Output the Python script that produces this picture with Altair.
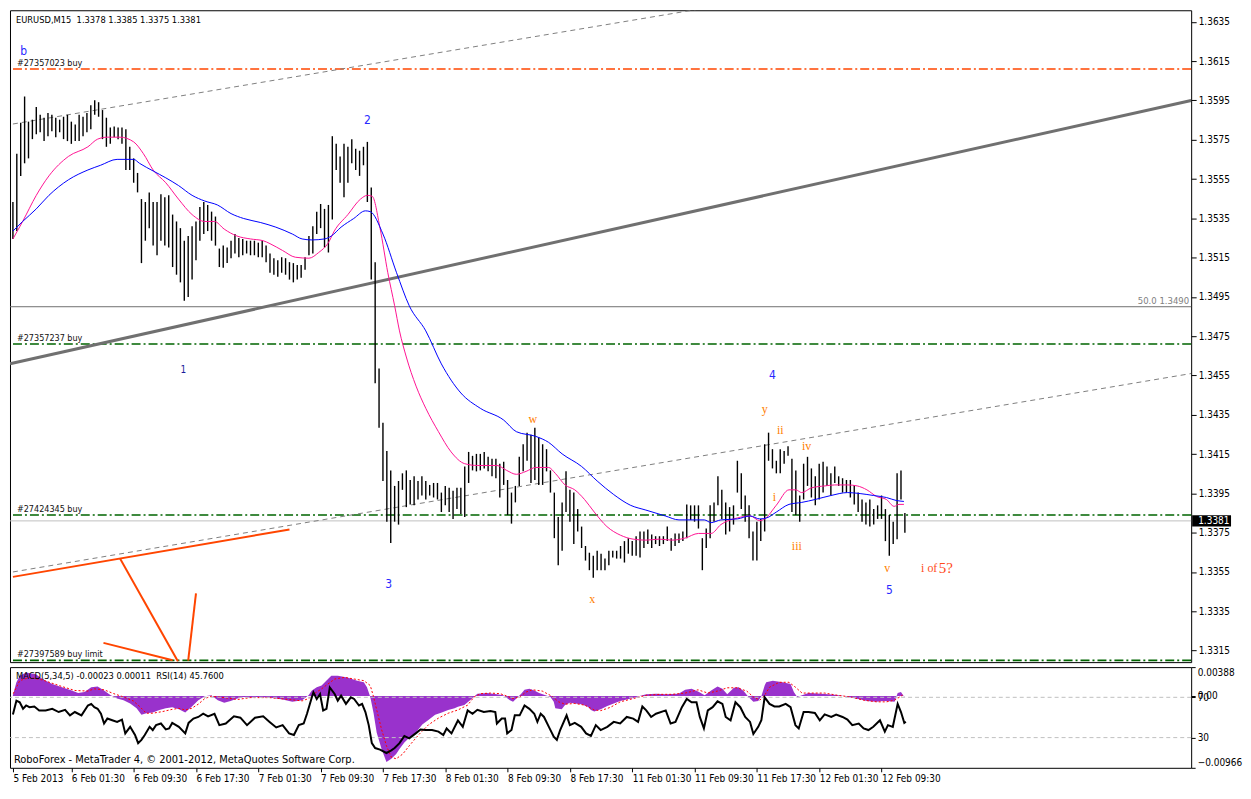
import json
import altair as alt
import pandas as pd

FONT = "DejaVu Sans Condensed, Liberation Sans, sans-serif"
SERIF = "Liberation Serif, serif"

# ---------------- price panel data ----------------
price_ticks = [1.3315, 1.3335, 1.3355, 1.3375, 1.3395, 1.3415, 1.3435, 1.3455, 1.3475,
               1.3495, 1.3515, 1.3535, 1.3555, 1.3575, 1.3595, 1.3615, 1.3635]

# bars: one bar every two M15 periods (index = M15 bar number)
bar_high = [
    1.35433, 1.35679, 1.35837, 1.35970, 1.35842, 1.35852, 1.35916, 1.35877, 1.35862, 1.35886,
    1.35877, 1.35862, 1.35852, 1.35867, 1.35877, 1.35842, 1.35827, 1.35877, 1.35867, 1.35886,
    1.35926, 1.35951, 1.35941, 1.35901, 1.35862, 1.35812, 1.35817, 1.35812, 1.35812, 1.35803,
    1.35714, 1.35655, 1.35581, 1.35448, 1.35433, 1.35482, 1.35433, 1.35433, 1.35472, 1.35457,
    1.35467, 1.35369, 1.35334, 1.35300, 1.35236, 1.35260, 1.35310, 1.35334, 1.35408, 1.35433,
    1.35418, 1.35384, 1.35359, 1.35196, 1.35211, 1.35201, 1.35236, 1.35270, 1.35250, 1.35245,
    1.35236, 1.35236, 1.35236, 1.35226, 1.35236, 1.35211, 1.35171, 1.35147, 1.35137, 1.35152,
    1.35147, 1.35127, 1.35122, 1.35112, 1.35112, 1.35152, 1.35260, 1.35310, 1.35384, 1.35423,
    1.35398, 1.35418, 1.35768, 1.35729, 1.35665, 1.35729, 1.35714, 1.35753, 1.35704, 1.35694,
    1.35714, 1.35739, 1.35507, 1.35127, 1.34585, 1.34309, 1.34166, 1.34067, 1.33988, 1.34013,
    1.34052, 1.34067, 1.34018, 1.34037, 1.34013, 1.34037, 1.34013, 1.33993, 1.34003, 1.34003,
    1.33954, 1.33988, 1.33978, 1.33963, 1.33978, 1.33978, 1.34087, 1.34161, 1.34141, 1.34151,
    1.34151, 1.34161, 1.34136, 1.34126, 1.34126, 1.34101, 1.34111, 1.34018, 1.33954, 1.33988,
    1.34136, 1.34200, 1.34259, 1.34249, 1.34284, 1.34235, 1.34200, 1.34175, 1.34067, 1.33954,
    1.33830, 1.33904, 1.34062, 1.33968, 1.33954, 1.33870, 1.33781, 1.33682, 1.33648, 1.33633,
    1.33658, 1.33643, 1.33618, 1.33658, 1.33658, 1.33658, 1.33682, 1.33707, 1.33722, 1.33707,
    1.33732, 1.33756, 1.33756, 1.33766, 1.33741, 1.33732, 1.33732, 1.33732, 1.33781, 1.33722,
    1.33746, 1.33746, 1.33756, 1.33894, 1.33889, 1.33889, 1.33889, 1.33722, 1.33771, 1.33889,
    1.33904, 1.34037, 1.33968, 1.33904, 1.33880, 1.33889, 1.34116, 1.34052, 1.33939, 1.33889,
    1.33756, 1.33806, 1.33820, 1.34200, 1.34259, 1.34175, 1.34116, 1.34175, 1.34166, 1.34190,
    1.34126, 1.34067, 1.33939, 1.34101, 1.34136, 1.34077, 1.34037, 1.34101, 1.34111, 1.34087,
    1.34052, 1.34087, 1.34037, 1.34027, 1.34018, 1.34018, 1.33993, 1.33954, 1.33919, 1.33904,
    1.33919, 1.33870, 1.33889, 1.33939, 1.33870, 1.33840, 1.33806, 1.34052, 1.34067, 1.33850,
]
bar_low = [
    1.35245, 1.35285, 1.35566, 1.35630, 1.35655, 1.35753, 1.35778, 1.35788, 1.35743, 1.35768,
    1.35793, 1.35763, 1.35788, 1.35753, 1.35743, 1.35729, 1.35743, 1.35743, 1.35768, 1.35788,
    1.35803, 1.35877, 1.35867, 1.35753, 1.35714, 1.35729, 1.35763, 1.35753, 1.35729, 1.35596,
    1.35596, 1.35531, 1.35482, 1.35122, 1.35236, 1.35300, 1.35211, 1.35162, 1.35236, 1.35211,
    1.35201, 1.35102, 1.35063, 1.35024, 1.34930, 1.34950, 1.35038, 1.35137, 1.35236, 1.35270,
    1.35285, 1.35236, 1.35211, 1.35102, 1.35098, 1.35122, 1.35147, 1.35171, 1.35152, 1.35162,
    1.35171, 1.35162, 1.35162, 1.35152, 1.35152, 1.35127, 1.35073, 1.35063, 1.35053, 1.35073,
    1.35063, 1.35038, 1.35024, 1.35038, 1.35048, 1.35088, 1.35162, 1.35171, 1.35270, 1.35300,
    1.35201, 1.35176, 1.35344, 1.35596, 1.35531, 1.35457, 1.35531, 1.35630, 1.35596, 1.35566,
    1.35620, 1.35433, 1.35038, 1.34511, 1.34284, 1.34013, 1.33806, 1.33697, 1.33806, 1.33791,
    1.33968, 1.33880, 1.33894, 1.33889, 1.33919, 1.33939, 1.33919, 1.33939, 1.33929, 1.33919,
    1.33855, 1.33889, 1.33855, 1.33820, 1.33870, 1.33845, 1.33830, 1.34003, 1.34067, 1.34062,
    1.34067, 1.34077, 1.34062, 1.34037, 1.34027, 1.33929, 1.33993, 1.33840, 1.33796, 1.33904,
    1.33988, 1.34062, 1.34116, 1.34003, 1.34018, 1.33993, 1.33993, 1.34062, 1.33954, 1.33722,
    1.33584, 1.33658, 1.33855, 1.33806, 1.33692, 1.33756, 1.33672, 1.33608, 1.33559, 1.33520,
    1.33559, 1.33559, 1.33559, 1.33584, 1.33623, 1.33618, 1.33618, 1.33598, 1.33643, 1.33633,
    1.33633, 1.33623, 1.33672, 1.33692, 1.33672, 1.33692, 1.33682, 1.33692, 1.33707, 1.33658,
    1.33682, 1.33697, 1.33707, 1.33722, 1.33815, 1.33806, 1.33771, 1.33559, 1.33672, 1.33722,
    1.33806, 1.33889, 1.33820, 1.33741, 1.33756, 1.33791, 1.33954, 1.33870, 1.33806, 1.33722,
    1.33608, 1.33608, 1.33707, 1.33756, 1.34116, 1.34077, 1.34052, 1.34052, 1.34101, 1.34141,
    1.33855, 1.33840, 1.33806, 1.33919, 1.33988, 1.33929, 1.33889, 1.33919, 1.33954, 1.33988,
    1.33939, 1.34003, 1.33988, 1.33954, 1.33954, 1.33929, 1.33894, 1.33855, 1.33806, 1.33791,
    1.33781, 1.33791, 1.33820, 1.33820, 1.33707, 1.33633, 1.33692, 1.33717, 1.33919, 1.33750,
]
bar_idx = [2 * k for k in range(len(bar_high))]

pink_i = [0, 5, 12, 18.5, 28.5, 38.5, 43.5, 48.5, 55, 62, 67, 72, 78.5, 85, 92, 98.5, 103.5,
          108.5, 115, 122, 128.5, 132, 138.5, 145, 152, 157, 162, 165, 172, 178.5, 182, 184.5,
          188.5, 192.5, 196, 198.5, 202, 207, 212, 218.5, 225, 232, 238.5, 248.5, 253.5, 258.5,
          263.5, 268.5, 275, 278.5, 283.5, 288.5, 293.5, 298.5, 305, 312, 318.5, 325, 332, 338.5,
          345, 352, 358.5, 363.5, 372, 378.5, 383.5, 386, 392, 398.5, 402, 405, 410, 417, 422,
          428.5, 433.5, 438.5, 443.5, 448.5, 452.5, 455, 457.5]
pink_p = [1.35245, 1.35334, 1.35467, 1.35566, 1.35665, 1.35714, 1.35753, 1.35763, 1.35763,
          1.35739, 1.35679, 1.35596, 1.35531, 1.35448, 1.35369, 1.35334, 1.35334, 1.35295,
          1.35260, 1.35245, 1.35236, 1.35221, 1.35186, 1.35152, 1.35147, 1.35176, 1.35226,
          1.35285, 1.35369, 1.35448, 1.35467, 1.35462, 1.35300, 1.35073, 1.34905, 1.34777,
          1.34644, 1.34496, 1.34383, 1.34264, 1.34161, 1.34101, 1.34092, 1.34092, 1.34067,
          1.34047, 1.34062, 1.34082, 1.34082, 1.34052, 1.33993, 1.33968, 1.33919, 1.33855,
          1.33781, 1.33737, 1.33717, 1.33712, 1.33717, 1.33712, 1.33722, 1.33746, 1.33746,
          1.33791, 1.33825, 1.33835, 1.33811, 1.33820, 1.33890, 1.33968, 1.33968, 1.33954,
          1.33978, 1.33988, 1.33993, 1.33993, 1.33988, 1.33968, 1.33934, 1.33919, 1.33884,
          1.33894, 1.33894]

blue_i = [0, 5, 12, 18.5, 28.5, 38.5, 45, 53.5, 62, 65, 72, 78.5, 85, 92, 98.5, 105, 112,
          118.5, 127, 135, 143.5, 148.5, 153.5, 160, 163.5, 168.5, 175, 181, 183.5, 190, 197,
          203.5, 212, 220, 230, 240, 252, 258.5, 268.5, 275, 282, 292, 300, 308.5, 317, 325,
          335, 342, 355, 358.5, 363.5, 372, 378.5, 383.5, 387, 392, 398.5, 405, 412, 420,
          428.5, 435, 442, 448.5, 453.5, 457.5]
blue_p = [1.35285, 1.35334, 1.35398, 1.35467, 1.35546, 1.35596, 1.35620, 1.35650, 1.35650,
          1.35630, 1.35591, 1.35556, 1.35517, 1.35467, 1.35438, 1.35418, 1.35374, 1.35349,
          1.35329, 1.35305, 1.35270, 1.35245, 1.35240, 1.35245, 1.35260, 1.35305, 1.35349,
          1.35388, 1.35384, 1.35270, 1.35073, 1.34905, 1.34777, 1.34609, 1.34461, 1.34383,
          1.34323, 1.34264, 1.34240, 1.34210, 1.34151, 1.34087, 1.34013, 1.33944, 1.33890,
          1.33865, 1.33835, 1.33815, 1.33815, 1.33801, 1.33815, 1.33820, 1.33835, 1.33820,
          1.33825, 1.33855, 1.33894, 1.33904, 1.33919, 1.33939, 1.33954, 1.33949, 1.33939,
          1.33929, 1.33914, 1.33909]

# trend / channel lines (endpoints)
thick_i = [-1.5, 605]
thick_p = [1.3461, 1.3595]
upper_i = [0, 373.5]
upper_p = [1.3583, 1.3645]
lower_i = [0, 605]
lower_p = [1.3355, 1.3456]
orange_seg = ["a", "a", "b", "b", "c", "c", "d", "d"]
orange_i = [0, 142, 55, 84.7, 46.5, 82, 90, 94]
orange_p = [1.33525, 1.33766, 1.33618, 1.33096, 1.33189, 1.33101, 1.33099, 1.33441]

order_p = [1.3611, 1.3471, 1.3384, 1.3310]
order_txt = ["#27357023 buy", "#27357237 buy", "#27424345 buy", "#27397589 buy limit"]
order_col = ["#FF4500", "#006400", "#006400", "#006400"]
fib_p = [1.3490]
fib_txt = ["50.0  1.3490"]
bid_p = [1.3381]
bid_txt = ["1.3381"]

blue_lbl = ["b", "2", "3", "4", "5"]
blue_lbl_i = [5.5, 182, 193, 390, 450]
blue_lbl_p = [1.3620, 1.3585, 1.3349, 1.3455, 1.3346]
one_lbl = ["1"]
one_lbl_i = [87.5]
one_lbl_p = [1.3458]
or_lbl = ["w", "x", "y", "ii", "iv", "i", "iii", "v"]
or_lbl_i = [267, 297.5, 386, 394, 407.5, 391, 402.5, 449]
or_lbl_p = [1.3433, 1.3341, 1.3438, 1.3427, 1.3419, 1.3393, 1.3368, 1.3357]
red_small = ["i of"]
red_small_i = [470.5]
red_small_p = [1.3357]
red_big = ["5?"]
red_big_i = [479]
red_big_p = [1.3357]

# ---------------- indicator data ----------------
macd_i = [0, 1.8, 3.5, 6.8, 11.8, 15.2, 20.2, 25.2, 30.2, 33.5, 36.8, 40.2, 43.5, 46.8, 50.2,
          53.5, 56.8, 60.2, 63.5, 66, 68.5, 71.8, 75.2, 78.5, 81.8, 85.2, 88.5, 91.8, 95.2,
          98.5, 101.8, 105.2, 108.5, 111.8, 115.2, 118.5, 121.8, 125.2, 131.8, 138.5, 143.5,
          148.5, 151.8, 153.5, 156, 158.5, 161.8, 163.5, 166.8, 171.8, 176.8, 180.2, 181.8,
          183.5, 185.2, 186.8, 189.3, 191.8, 194.3, 196.8, 198.5, 201, 203.5, 206.8, 210.2,
          213.5, 216.8, 220.2, 223.5, 226.8, 228.5, 231.8, 235.2, 238.5, 243.5, 248.5, 251.8,
          255.2, 256.8, 258.5, 261, 262.7, 265.2, 267.7, 270.2, 273.5, 276, 277.7, 278.5, 281.8,
          283.5, 286, 288.5, 291.8, 295.2, 296.8, 298.5, 301.8, 305.2, 308.5, 311.8, 315.2,
          318.5, 321.8, 325.2, 330.2, 335.2, 341.8, 345.2, 348.5, 351.8, 355.2, 358.5, 361.8,
          364.3, 366.8, 370.2, 372.7, 375.2, 377.7, 380.2, 382.7, 384.3, 386, 386.8, 390.2,
          395.2, 399.3, 401, 402.7, 405.2, 408.5, 415.2, 421.8, 426.8, 430.2, 435.2, 438.5,
          443.5, 446.8, 450.2, 452.7, 454.3, 456, 457.7]
macd_v = [0.00009, 0.00184, 0.00272, 0.00315, 0.00293, 0.00228, 0.00162, 0.00118, 0.00074,
          0.00039, 0.00053, 0.00118, 0.00127, 0.00074, 0.00009, -0.00035, -0.00057, -0.00101,
          -0.00166, -0.00254, -0.00232, -0.00223, -0.00188, -0.00166, -0.00153, -0.00180,
          -0.00223, -0.00145, -0.00057, -0.00004, 0.00009, -0.00057, -0.00092, -0.00066,
          -0.00035, -0.00013, -0.00022, -0.00013, -0.00022, -0.00048, -0.00079, -0.00057,
          0.00009, 0.00074, 0.00118, 0.00140, 0.00228, 0.00272, 0.00272, 0.00250, 0.00206,
          0.00184, 0.00118, -0.00013, -0.00232, -0.00495, -0.00714, -0.00889, -0.00845,
          -0.00780, -0.00714, -0.00626, -0.00561, -0.00495, -0.00385, -0.00320, -0.00254,
          -0.00223, -0.00188, -0.00166, -0.00145, -0.00123, -0.00048, 0.00031, 0.00039,
          0.00022, 0.00009, -0.00057, -0.00079, -0.00035, 0.00031, 0.00083, 0.00096, 0.00074,
          0.00039, 0.00009, -0.00013, -0.00079, -0.00166, -0.00180, -0.00123, -0.00092,
          -0.00101, -0.00110, -0.00145, -0.00188, -0.00210, -0.00180, -0.00136, -0.00101,
          -0.00066, -0.00048, -0.00026, 0.0, 0.00022, 0.00031, 0.00022, 0.00031, 0.00083,
          0.00096, 0.00061, 0.00009, 0.00074, 0.00127, 0.00096, 0.00022, 0.00110, 0.00118,
          0.00066, -0.00013, -0.00079, -0.00066, -0.00004, 0.00140, 0.00184, 0.00206, 0.00184,
          0.00162, 0.00053, -0.00013, 0.00009, 0.00039, 0.00031, 0.00018, 0.0, -0.00022,
          -0.00048, -0.00066, -0.00079, -0.00066, -0.00070, -0.00079, 0.00039, 0.00053,
          -0.00013]

sig_i = [0.2, 3.5, 8.5, 15.2, 25.2, 31.8, 38.5, 41.8, 46.8, 51.8, 56.8, 61.8, 65.2, 68.5, 71.8,
         76.8, 81.8, 85.2, 88.5, 91.8, 95.2, 98.5, 101.8, 108.5, 115.2, 121.8, 131.8, 141.8,
         148.5, 151.8, 155.2, 158.5, 161.8, 165.2, 170.2, 175.2, 180.2, 183.5, 185.2, 186.8,
         189.3, 191.8, 194.3, 196.8, 200.2, 203.5, 208.5, 213.5, 218.5, 223.5, 228.5, 233.5,
         236.8, 240.2, 245.2, 250.2, 253.5, 256.8, 260.2, 263.5, 266.8, 271.8, 276.8, 280.2,
         283.5, 288.5, 293.5, 298.5, 301.8, 306.8, 311.8, 318.5, 325.2, 331.8, 338.5, 345.2,
         351.8, 356.8, 361.8, 366.8, 371.8, 376.8, 380.2, 383.5, 386, 388.5, 393.5, 398.5,
         401.8, 405.2, 410.2, 416.8, 423.5, 430.2, 436.8, 443.5, 448.5, 452.7, 456.8]
sig_v = [0.00031, 0.00206, 0.00250, 0.00215, 0.00127, 0.00074, 0.00066, 0.00096, 0.00083,
         0.00031, -0.00013, -0.00066, -0.00145, -0.00232, -0.00232, -0.00210, -0.00180,
         -0.00166, -0.00188, -0.00166, -0.00110, -0.00035, -0.00004, -0.00022, -0.00048,
         -0.00022, -0.00022, -0.00048, -0.00066, -0.00035, 0.00039, 0.00096, 0.00162, 0.00228,
         0.00250, 0.00228, 0.00206, 0.00140, -0.00013, -0.00188, -0.00451, -0.00670, -0.00823,
         -0.00845, -0.00780, -0.00670, -0.00517, -0.00385, -0.00298, -0.00232, -0.00188,
         -0.00123, -0.00013, 0.00031, 0.00039, 0.00031, 0.0, -0.00035, -0.00013, 0.00053,
         0.00083, 0.00066, -0.00004, -0.00079, -0.00110, -0.00101, -0.00123, -0.00188,
         -0.00197, -0.00153, -0.00079, -0.00035, 0.00009, 0.00022, 0.00022, 0.00039, 0.00083,
         0.00039, 0.00066, 0.00110, 0.00110, 0.00066, -0.00013, -0.00057, 0.00009, 0.00118,
         0.00184, 0.00184, 0.00118, 0.00039, 0.00039, 0.00039, 0.00009, -0.00013, -0.00057,
         -0.00079, -0.00079, -0.00057, 0.00011]

rsi_i = [0, 1.8, 3.5, 5.2, 6.8, 8.5, 11, 13.5, 16.8, 20.2, 23.5, 26.8, 29.3, 31.8, 35.2, 38.5,
         40.2, 41.8, 43.5, 45.2, 46.8, 48.5, 51, 53.5, 56, 57.7, 60.2, 62.7, 64.3, 66, 67.7,
         70.2, 71.8, 73.5, 76, 78.5, 80.2, 81.8, 85.2, 88.5, 90.2, 92.7, 95.2, 97.7, 100.2,
         103.5, 106, 109.3, 113.5, 116.8, 120.2, 124.3, 128.5, 131.8, 135.2, 138.5, 141.8,
         144.3, 146.8, 149.3, 151, 153.5, 154.3, 156, 157.7, 159.3, 161, 162.7, 165.2, 166.8,
         168.5, 171, 173.5, 175.2, 177.7, 179.3, 181, 182.7, 184.3, 186, 188.5, 191.8, 194.3,
         196, 198.5, 201, 203.5, 206.8, 209.3, 211.8, 215.2, 218.5, 221, 222.7, 225.2, 228.5,
         231, 233.5, 236, 238.5, 241.8, 245.2, 247.7, 248.5, 251, 252.7, 253.8, 256, 257.7,
         260.2, 262.7, 265.2, 267.7, 269.3, 271, 272.7, 275.2, 277.7, 279.3, 281, 284.3, 286,
         288.5, 291.8, 294.3, 296.8, 299.3, 301.8, 305.2, 308.5, 311.8, 315.2, 318.5, 321,
         323.2, 325.2, 327.7, 330.2, 335.2, 337.7, 340.2, 343.5, 346, 348.5, 351, 352.7, 354.8,
         356.8, 359.3, 361.8, 364.3, 366, 368.5, 371, 373.5, 376, 378.5, 380.2, 382.7, 384.3,
         386, 388.5, 391, 393.5, 396.8, 399.3, 401.8, 403.5, 406, 408.5, 411.8, 414.3, 416.8,
         420.2, 422.7, 426, 428.5, 431, 434.3, 436.8, 439.3, 441.8, 445.2, 447.7, 449.3, 451.8,
         454.3, 456, 457.7, 458.5]
rsi_v = [53.0, 66.7, 65.1, 58.6, 61.9, 60.2, 60.9, 57.0, 57.0, 58.6, 55.4, 57.6, 52.1, 55.4,
         52.1, 61.9, 63.5, 60.2, 58.6, 53.7, 44.0, 48.9, 47.2, 45.6, 47.9, 34.2, 40.7, 32.6,
         24.5, 27.7, 32.6, 40.7, 37.5, 42.4, 44.0, 38.1, 39.1, 44.6, 40.7, 34.2, 44.6, 48.9,
         50.5, 53.7, 51.1, 53.7, 42.4, 44.0, 51.1, 49.8, 42.4, 49.8, 51.1, 45.6, 40.1, 42.4,
         34.2, 32.6, 42.4, 44.0, 53.7, 70.0, 74.9, 68.4, 73.3, 57.0, 58.6, 79.8, 73.3, 66.7,
         71.6, 63.5, 70.0, 68.4, 61.9, 63.5, 55.4, 42.4, 24.5, 19.6, 18.0, 14.7, 17.3, 19.6,
         24.5, 31.6, 29.3, 34.2, 38.1, 37.5, 37.5, 35.9, 32.6, 39.1, 34.2, 47.0,
         40.7, 57.0, 53.7, 57.6, 55.4, 56.3, 55.4, 44.0, 48.9, 48.9, 34.2, 37.5, 52.1, 52.1,
         61.9, 58.6, 53.7, 45.6, 53.7, 50.5, 40.7, 31.0, 27.7, 37.5, 52.1, 42.4, 44.6, 40.7,
         34.2, 31.6, 42.4, 37.5, 40.7, 45.6, 44.0, 50.5, 48.9, 45.6, 60.9, 57.0, 50.5, 53.7,
         57.0, 44.0, 45.6, 60.2, 68.4, 65.1, 65.1, 50.5, 39.1, 57.0, 60.2, 66.1, 63.5, 50.5,
         47.2, 65.1, 60.2, 50.5, 45.6, 33.6, 40.7, 47.2, 70.0, 63.5, 60.9, 60.9, 63.5, 60.2,
         42.4, 39.1, 55.4, 55.4, 54.4, 47.2, 53.1, 50.5, 52.8, 50.5, 47.9, 42.4, 44.0, 39.1,
         37.5, 40.7, 47.2, 35.9, 42.4, 40.7, 63.5, 55.4, 44.6, 45.8]
rsi_levels = [70, 30]
macd_ticks = [0.00388, 0.0, -0.00966]

x_ticks = [0, 30, 62, 94, 126, 158, 190, 222, 254, 286, 318, 350, 382, 414, 446]
x_labels = ["5 Feb 2013", "6 Feb 01:30", "6 Feb 09:30", "6 Feb 17:30", "7 Feb 01:30",
            "7 Feb 09:30", "7 Feb 17:30", "8 Feb 01:30", "8 Feb 09:30", "8 Feb 17:30",
            "11 Feb 01:30", "11 Feb 09:30", "11 Feb 17:30", "12 Feb 01:30", "12 Feb 09:30"]

title_txt = "EURUSD,M15\u00a0\u00a01.3378 1.3385 1.3375 1.3381"
ind_txt = "MACD(5,34,5) -0.00023 0.00011\u00a0\u00a0RSI(14) 45.7600"
copy_txt = "RoboForex - MetaTrader 4, \u00a9 2001-2012, MetaQuotes Software Corp."

# ---------------- layout ----------------
W, H1, H2 = 1185, 654, 101
xs = alt.Scale(domain=[-1.5, 605], nice=False, zero=False)
ys = alt.Scale(domain=[1.33091, 1.36409], nice=False, zero=False)
yax = alt.Axis(orient="right", values=price_ticks, format=".4f", title=None, grid=False,
               domain=False, ticks=True, tickSize=5, tickColor="black", labelColor="black",
               labelFont=FONT, labelFontSize=10, labelPadding=2)


def PX(f):
    return alt.X(f"{f}:Q", scale=xs, axis=None)


def PY(f):
    return alt.Y(f"{f}:Q", scale=ys, axis=yax)


bars_df = pd.DataFrame({"i": bar_idx, "hi": bar_high, "lo": bar_low})
bars = alt.Chart(bars_df).mark_rule(color="black", strokeWidth=1.4).encode(
    x=PX("i"), y=PY("lo"), y2=alt.Y2("hi:Q"))

pink = alt.Chart(pd.DataFrame({"i": pink_i, "p": pink_p})).mark_line(
    color="#FF1493", strokeWidth=1, interpolate="monotone").encode(x=PX("i"), y=PY("p"))
blue = alt.Chart(pd.DataFrame({"i": blue_i, "p": blue_p})).mark_line(
    color="#0000FF", strokeWidth=1, interpolate="monotone").encode(x=PX("i"), y=PY("p"))

thick = alt.Chart(pd.DataFrame({"i": thick_i, "p": thick_p})).mark_line(
    color="#707070", strokeWidth=3, clip=True).encode(x=PX("i"), y=PY("p"))
upper = alt.Chart(pd.DataFrame({"i": upper_i, "p": upper_p})).mark_line(
    color="#808080", strokeWidth=1, strokeDash=[5, 4], clip=True).encode(x=PX("i"), y=PY("p"))
lower = alt.Chart(pd.DataFrame({"i": lower_i, "p": lower_p})).mark_line(
    color="#808080", strokeWidth=1, strokeDash=[5, 4], clip=True).encode(x=PX("i"), y=PY("p"))
orange = alt.Chart(pd.DataFrame({"s": orange_seg, "i": orange_i, "p": orange_p})).mark_line(
    color="#FF4500", strokeWidth=2, clip=True).encode(x=PX("i"), y=PY("p"), detail="s:N")

orders_df = pd.DataFrame({"p": order_p, "t": order_txt, "c": order_col})
orders = alt.Chart(orders_df).mark_rule(strokeWidth=1.6, strokeDash=[9, 3, 2, 3]).encode(
    y=PY("p"), color=alt.Color("c:N", scale=None))
orders_t = alt.Chart(orders_df).mark_text(
    align="left", baseline="bottom", dy=-1, font=FONT, fontSize=9, color="#111111").encode(
    x=alt.value(7), y=PY("p"), text="t:N")

fib_df = pd.DataFrame({"p": fib_p, "t": fib_txt})
fib = alt.Chart(fib_df).mark_rule(color="#707070", strokeWidth=1).encode(y=PY("p"))
fib_t = alt.Chart(fib_df).mark_text(
    align="right", baseline="bottom", dy=-1, font=FONT, fontSize=9.5, color="#808080").encode(
    x=alt.value(W - 2), y=PY("p"), text="t:N")

bid_df = pd.DataFrame({"p": bid_p, "t": bid_txt})
bid = alt.Chart(bid_df).mark_rule(color="#C0C0C0", strokeWidth=1).encode(y=PY("p"))
bid_box = alt.Chart(bid_df).transform_calculate(
    top="datum.p + 0.00029", bot="datum.p - 0.00029").mark_rect(color="black").encode(
    x=alt.value(W + 1), x2=alt.value(W + 40), y=PY("top"), y2=alt.Y2("bot:Q"))
bid_t = alt.Chart(bid_df).mark_text(
    align="left", baseline="middle", font=FONT, fontSize=10, color="white").encode(
    x=alt.value(W + 7), y=PY("p"), text="t:N")


def labels(txt, ii, pp, color, font, size):
    df = pd.DataFrame({"t": txt, "i": ii, "p": pp})
    return alt.Chart(df).mark_text(
        align="center", baseline="middle", font=font, fontSize=size, color=color).encode(
        x=PX("i"), y=PY("p"), text="t:N")


lb_blue = labels(blue_lbl, blue_lbl_i, blue_lbl_p, "#2828FF", FONT, 12)
lb_one = labels(one_lbl, one_lbl_i, one_lbl_p, "#1C1C9A", FONT, 10)
lb_or = labels(or_lbl, or_lbl_i, or_lbl_p, "#FF8000", SERIF, 12)
lb_red1 = labels(red_small, red_small_i, red_small_p, "#FF4A1A", SERIF, 12)
lb_red2 = labels(red_big, red_big_i, red_big_p, "#FF4A1A", SERIF, 15)

title = alt.Chart(pd.DataFrame({"t": [title_txt]})).mark_text(
    align="left", baseline="middle", font=FONT, fontSize=9.3, color="black").encode(
    x=alt.value(6), y=alt.value(10), text="t:N")

price = alt.layer(
    fib, bid, orders, thick, upper, lower, orange, bars, pink, blue,
    orders_t, fib_t, bid_box, bid_t, lb_blue, lb_one, lb_or, lb_red1, lb_red2, title
).properties(width=W, height=H1)

# ---------------- indicator panel ----------------
xax = alt.Axis(values=x_ticks, title=None, grid=False, domain=False, tickSize=4,
               tickColor="black", labelColor="black", labelFont=FONT, labelFontSize=10,
               labelAlign="left", labelPadding=2, labelFlush=False, labelOverlap=False,
               labelExpr=f"{json.dumps(x_labels)}[indexof({json.dumps(x_ticks)}, datum.value)]")
ms = alt.Scale(domain=[-0.00966, 0.00388], nice=False, zero=False)
rs = alt.Scale(domain=[0, 100], nice=False, zero=False)
max_ = alt.Axis(orient="right", values=macd_ticks, title=None, grid=False, domain=False,
                tickSize=4, tickColor="black", labelColor="black", labelFont=FONT,
                labelFontSize=10, labelPadding=2, labelFlush=True,
                labelExpr="datum.value == 0 ? '0.00' : format(datum.value, '.5f')")
rax = alt.Axis(orient="right", values=rsi_levels, title=None, grid=False, domain=False,
               tickSize=4, tickColor="black", labelColor="black", labelFont=FONT,
               labelFontSize=10, labelPadding=2, format="d")


def IX(f):
    return alt.X(f"{f}:Q", scale=xs, axis=xax)


macd = alt.Chart(pd.DataFrame({"i": macd_i, "v": macd_v})).mark_area(
    color="#9932CC", opacity=1).encode(
    x=IX("i"), y=alt.Y("v:Q", scale=ms, axis=max_), y2=alt.datum(0))
signal = alt.Chart(pd.DataFrame({"i": sig_i, "v": sig_v})).mark_line(
    color="#FF0000", strokeWidth=1, strokeDash=[2, 2]).encode(
    x=IX("i"), y=alt.Y("v:Q", scale=ms, axis=None))
levels = alt.Chart(pd.DataFrame({"r": rsi_levels})).mark_rule(
    color="#C0C0C0", strokeWidth=1, strokeDash=[4, 3]).encode(
    y=alt.Y("r:Q", scale=rs, axis=None))
rsi = alt.Chart(pd.DataFrame({"i": rsi_i, "r": rsi_v})).mark_line(
    color="black", strokeWidth=2).encode(
    x=IX("i"), y=alt.Y("r:Q", scale=rs, axis=rax))
ind_t = alt.Chart(pd.DataFrame({"t": [ind_txt]})).mark_text(
    align="left", baseline="middle", font=FONT, fontSize=9.3, color="black").encode(
    x=alt.value(6), y=alt.value(9), text="t:N")
copy_t = alt.Chart(pd.DataFrame({"t": [copy_txt]})).mark_text(
    align="left", baseline="middle", font=FONT, fontSize=11, color="black").encode(
    x=alt.value(4), y=alt.value(H2 - 8), text="t:N")

indicator = alt.layer(macd, signal, levels, rsi, ind_t, copy_t).resolve_scale(
    y="independent").properties(width=W, height=H2)

chart = alt.vconcat(price, indicator, spacing=3).properties(
    padding=0, background="white"
).configure_view(stroke="black", strokeWidth=1)

chart.save("out.html", embed_options={"renderer": "svg", "actions": False})
